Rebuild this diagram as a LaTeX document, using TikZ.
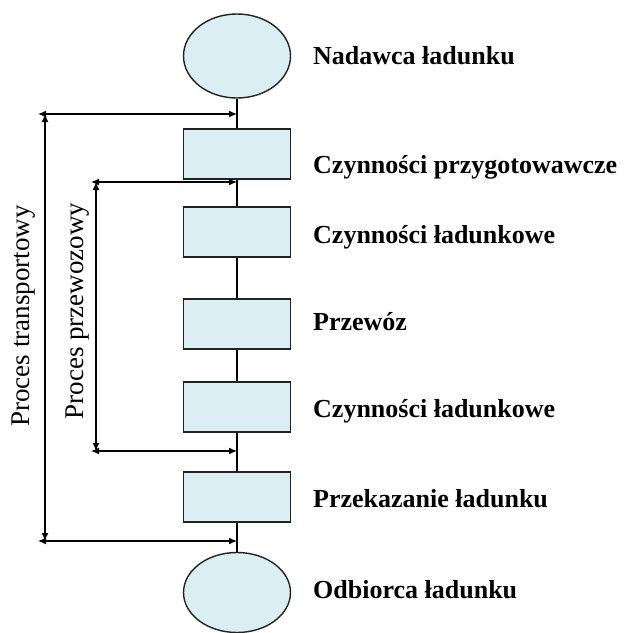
\documentclass[tikz,border=0pt]{standalone}
\usepackage{fontspec}
\setmainfont{Liberation Serif}
\usetikzlibrary{shapes.geometric,arrows.meta}
\definecolor{boxfill}{HTML}{DAEEF3}
\definecolor{edge}{HTML}{222222}
\tikzset{
  stage/.style={draw=edge, line width=1.4pt, fill=boxfill, minimum width=107pt, minimum height=50pt, inner sep=0pt},
  endpt/.style={ellipse, draw=edge, line width=1.4pt, fill=boxfill, minimum width=107pt, minimum height=84pt, inner sep=0pt},
  lbl/.style={anchor=base west, inner sep=0pt, font=\fontsize{26}{30}\selectfont\bfseries},
  sidelbl/.style={anchor=base, rotate=90, inner sep=0pt, font=\fontsize{27}{31}\selectfont},
  link/.style={draw=black, line width=1.3pt},
  span/.style={draw=black, line width=1.3pt, {Latex[length=8pt,width=7pt]}-{Latex[length=8pt,width=7pt]}}
}
\begin{document}
\begin{tikzpicture}[x=1pt,y=-1pt]
\useasboundingbox (0,0) rectangle (624,633);
% nodes
\node[endpt] (e1) at (237,56) {};
\node[stage] (b1) at (237,154) {};
\node[stage] (b2) at (237,232) {};
\node[stage] (b3) at (237,324) {};
\node[stage] (b4) at (237,407) {};
\node[stage] (b5) at (237,497) {};
\node[endpt, minimum height=80pt] (e2) at (237,592.5) {};
% spine
\draw[link] (e1.south) -- (b1.north);
\draw[link] (b1.south) -- (b2.north);
\draw[link] (b2.south) -- (b3.north);
\draw[link] (b3.south) -- (b4.north);
\draw[link] (b4.south) -- (b5.north);
\draw[link] (b5.south) -- (e2.north);
% labels
\node[lbl] (t1) at (313,64) {Nadawca ładunku};
\node[lbl] (t2) at (313,173) {Czynności przygotowawcze};
\node[lbl] (t3) at (313,243) {Czynności ładunkowe};
\node[lbl] (t4) at (313,330) {Przewóz};
\node[lbl] (t5) at (313,417) {Czynności ładunkowe};
\node[lbl] (t6) at (313,507) {Przekazanie ładunku};
\node[lbl] (t7) at (313,598) {Odbiorca ładunku};
% span coordinates
\coordinate (otl) at (38,114);
\coordinate (otr) at (237,114);
\coordinate (obl) at (38,541);
\coordinate (obr) at (237,541);
\coordinate (ovt) at (45,114);
\coordinate (ovb) at (45,541);
\coordinate (itl) at (91,182);
\coordinate (itr) at (237,182);
\coordinate (ibl) at (91,451);
\coordinate (ibr) at (237,451);
\coordinate (ivt) at (96,182);
\coordinate (ivb) at (96,451);
% spans
\draw[span] (otl) -- (otr);
\draw[span] (obl) -- (obr);
\draw[span] (ovt) -- (ovb);
\draw[span] (itl) -- (itr);
\draw[span] (ibl) -- (ibr);
\draw[span] (ivt) -- (ivb);
% side labels
\node[sidelbl] (s1) at (30,316) {Proces transportowy};
\node[sidelbl] (s2) at (83,311) {Proces przewozowy};
\end{tikzpicture}
\end{document}
